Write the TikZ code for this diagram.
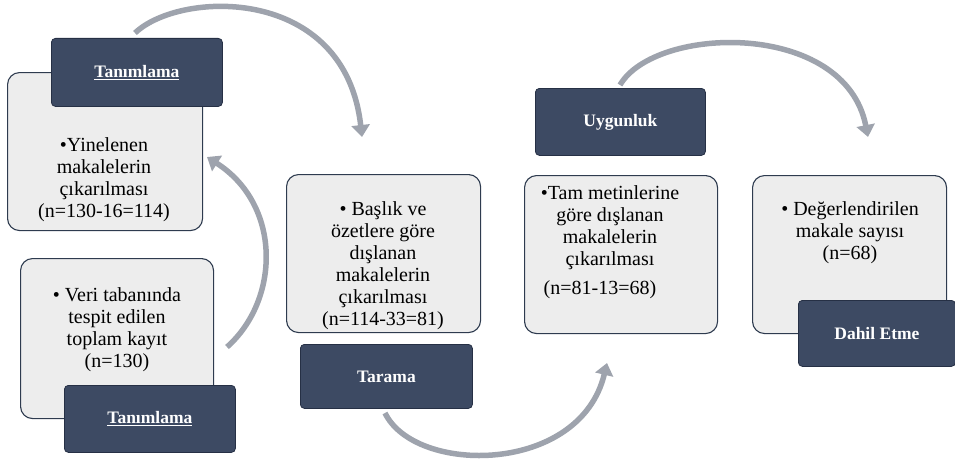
\documentclass[tikz,border=0pt]{standalone}
\usepackage{fontspec}
\setmainfont{Liberation Serif}
\usepackage{xcolor}
\usetikzlibrary{arrows.meta}
\definecolor{PanelGray}{rgb}{0.93,0.93,0.93}
\definecolor{PanelEdge}{rgb}{0.18,0.23,0.31}
\definecolor{SlateNavy}{rgb}{0.24,0.29,0.39}
\definecolor{SlateEdge}{rgb}{0.15,0.19,0.27}
\definecolor{CycleGray}{rgb}{0.62,0.64,0.68}

\begin{document}
\begin{tikzpicture}[x=1pt,y=1pt,yscale=-1,xscale=1,
		panel/.style={draw=PanelEdge, line width=1.1pt, fill=PanelGray, rounded corners=12pt, anchor=north west, inner sep=0pt},
		tag/.style={draw=SlateEdge, line width=0.8pt, fill=SlateNavy, rounded corners=4pt, anchor=north west, inner sep=0pt},
		tagtext/.style={text=white, font=\fontsize{17.5}{20}\selectfont\bfseries, inner sep=0.75pt},
		bodytext/.style={align=center, font=\fontsize{20}{22}\selectfont, inner sep=0.75pt},
		cycle/.style={draw=CycleGray, line width=5.5pt, -{Triangle[width=18pt,length=12pt]}}]
		% Fix the page: 955 wide, 460 high
		\useasboundingbox (0,0) rectangle (955,460);

		% End points of the grey cycle arrows
		\coordinate (topLeftFrom) at (135,33);
		\coordinate (topLeftTo) at (362,137);
		\coordinate (sideFrom) at (227,347);
		\coordinate (sideTo) at (207,157);
		\coordinate (bottomFrom) at (385,413);
		\coordinate (bottomTo) at (607,363);
		\coordinate (topRightFrom) at (620,85);
		\coordinate (topRightTo) at (868,137);

		% Grey arrows (drawn first, boxes sit on top)
		\draw[cycle] (topLeftFrom) .. controls (180,-10) and (345,-15) .. (topLeftTo);
		\draw[cycle] (sideFrom) .. controls (280,300) and (282,205) .. (sideTo);
		\draw[cycle] (bottomFrom) .. controls (415,475) and (580,475) .. (bottomTo);
		\draw[cycle] (topRightFrom) .. controls (655,25) and (845,20) .. (topRightTo);

		% Light panels
		\node[panel, minimum width=195, minimum height=158] (dupPanel) at (7,72) {};
		\node[panel, minimum width=193, minimum height=160] (recordPanel) at (20,258) {};
		\node[panel, minimum width=194, minimum height=158] (screenPanel) at (286,174) {};
		\node[panel, minimum width=193, minimum height=158] (fullPanel) at (524,175) {};
		\node[panel, minimum width=194, minimum height=158] (finalPanel) at (752,175) {};

		% Dark stage tags
		\node[tag, minimum width=171, minimum height=68] (dupTag) at (51,38) {};
		\node[tag, minimum width=171, minimum height=67] (recordTag) at (64,385) {};
		\node[tag, minimum width=172, minimum height=64] (screenTag) at (300,344) {};
		\node[tag, minimum width=170, minimum height=67] (fullTag) at (535,88) {};
		\node[tag, minimum width=157, minimum height=66] (finalTag) at (798,300) {};

		% Tag texts
		\node[tagtext] (dupTagText) at (dupTag.center) {\underline{Tanımlama}};
		\node[tagtext] (recordTagText) at (recordTag.center) {\underline{Tanımlama}};
		\node[tagtext] (screenTagText) at (screenTag.center) {Tarama};
		\node[tagtext] (fullTagText) at (fullTag.center) {Uygunluk};
		\node[tagtext] (finalTagText) at (finalTag.center) {Dahil Etme};

		% Panel texts
		\node[bodytext] (dupText) at (104,180) {•Yinelenen\\makalelerin\\çıkarılması\\(n=130-16=114)};
		\node[bodytext] (recordText) at (117,330) {• Veri tabanında\\tespit edilen\\toplam kayıt\\(n=130)};
		\node[bodytext] (screenText) at (383,266) {• Başlık ve\\özetlere göre\\dışlanan\\makalelerin\\çıkarılması\\(n=114-33=81)};
		\node[bodytext] (fullText) at (610,242) {•Tam metinlerine\\göre dışlanan\\makalelerin\\çıkarılması\\[7pt]\hspace*{-20pt}(n=81-13=68)};
		\node[bodytext] (finalText) at (850,233) {• Değerlendirilen\\makale sayısı\\(n=68)};
	\end{tikzpicture}
\end{document}
